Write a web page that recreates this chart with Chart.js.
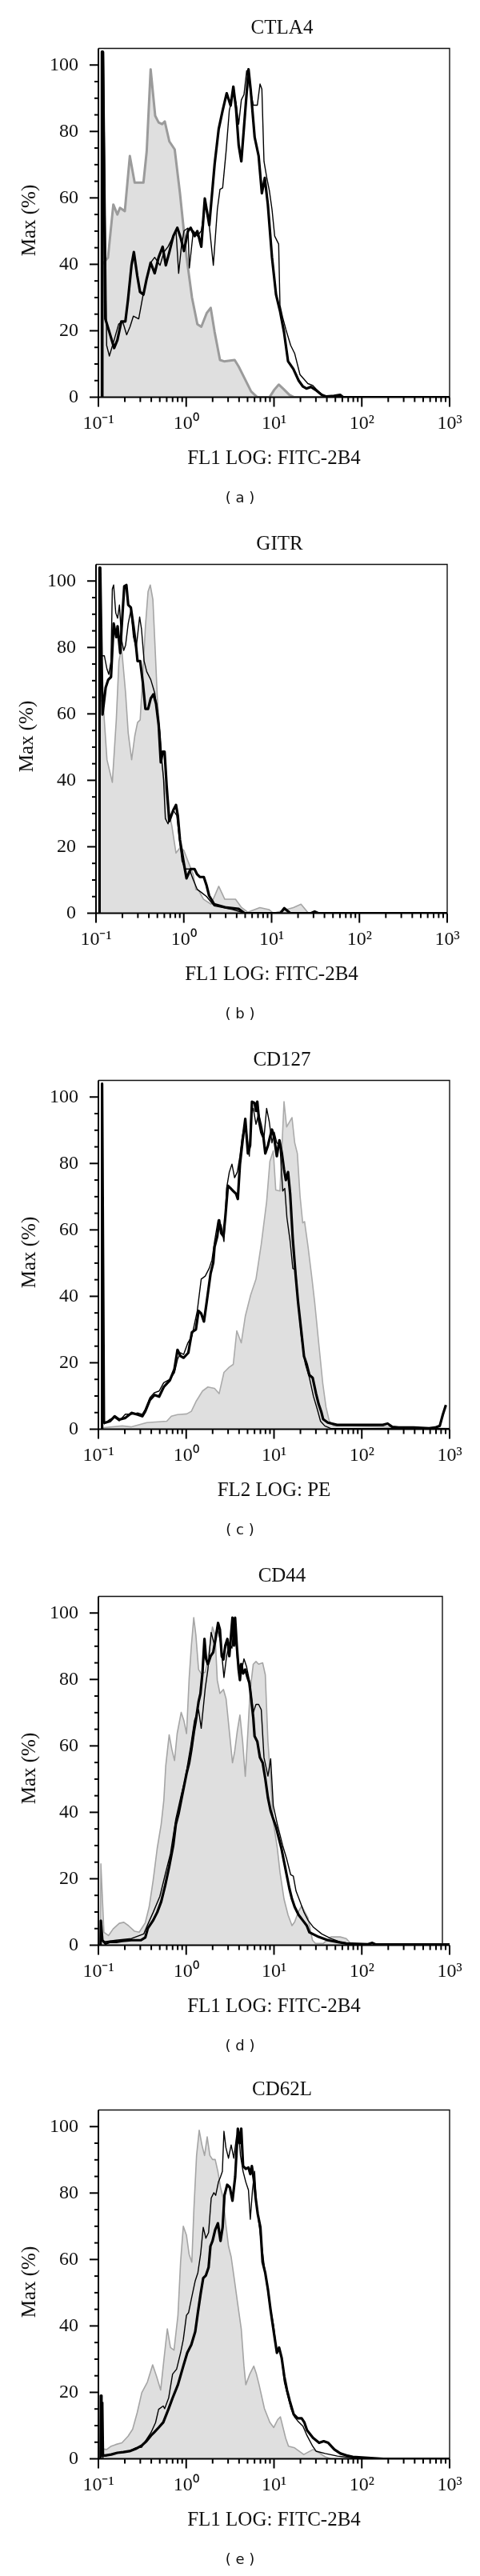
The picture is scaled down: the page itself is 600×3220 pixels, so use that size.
<!DOCTYPE html>
<html>
<head>
<meta charset="utf-8">
<script src="https://cdn.jsdelivr.net/npm/chart.js@4.4.1/dist/chart.umd.min.js"></script>
<style>
  body { margin: 0; background: #fff; }
  #page { position: relative; width: 600px; height: 3220px; overflow: hidden; background: #fff; }
  canvas { position: absolute; }
</style>
</head>
<body>
<div id="page">
  <canvas id="chart0" width="600" height="644" style="top:0;left:0"></canvas>
  <canvas id="chart1" width="600" height="644" style="top:645px;left:-3px"></canvas>
  <canvas id="chart2" width="600" height="644" style="top:1290px;left:0"></canvas>
  <canvas id="chart3" width="600" height="644" style="top:1935px;left:0"></canvas>
  <canvas id="chart4" width="600" height="643" style="top:2577px;left:0"></canvas>
</div>
<script>
// axis ticks (x values are log10 of the fluorescence intensity)
const decades = [-1, 0, 1, 2, 3];
const decadeLabels = ['10\u207B\u00B9', '10\u2070', '10\u00B9', '10\u00B2', '10\u00B3'];
const minorSteps = [2, 3, 4, 5, 6, 7, 8, 9];
const yTicks = [0, 20, 40, 60, 80, 100];
const yMinorStep = 5;

// (a) CTLA4
const ctla4IsoX = [-0.96, -0.955, -0.891, -0.83, -0.784, -0.754, -0.699, -0.642, -0.587, -0.487, -0.45, -0.405, -0.353, -0.314, -0.274, -0.244, -0.192, -0.131, -0.071, 0.005, 0.066, 0.127, 0.172, 0.233, 0.279, 0.324, 0.385, 0.431, 0.552, 0.598, 0.674, 0.74, 0.81, 0.949, 1.002, 1.054, 1.107, 1.176, 1.229, 3];
const ctla4IsoY = [0, 40, 42, 58, 55, 57, 56, 72.6, 64.6, 64.6, 74, 98.7, 84.7, 82.7, 82.2, 83, 77, 74.6, 61.4, 42, 30, 22, 21.2, 25.3, 26.9, 19.6, 11.2, 10.8, 11.2, 9.2, 5.2, 1.7, 0, 0, 2.2, 3.8, 2.5, 0.7, 0, 0];
const ctla4ThinX = [-0.95, -0.948, -0.94, -0.906, -0.875, -0.83, -0.769, -0.724, -0.678, -0.64, -0.602, -0.541, -0.496, -0.45, -0.405, -0.359, -0.298, -0.253, -0.207, -0.162, -0.116, -0.086, -0.055, -0.025, 0.02, 0.036, 0.081, 0.127, 0.172, 0.218, 0.263, 0.309, 0.355, 0.385, 0.415, 0.455, 0.491, 0.537, 0.567, 0.598, 0.628, 0.658, 0.689, 0.719, 0.765, 0.81, 0.841, 0.862, 0.886, 0.917, 0.947, 0.977, 1.008, 1.053, 1.068, 1.099, 1.135, 1.19, 1.235, 1.296, 1.386, 1.438, 1.508, 1.578, 3];
const ctla4ThinY = [0, 104, 104, 15.6, 12.4, 16.4, 22, 22.8, 18.8, 21.2, 24.4, 23.6, 30.1, 35.7, 40.5, 42.1, 39.7, 43.7, 45.3, 47.7, 50.1, 37.3, 45.3, 50.1, 50.9, 38.9, 50.1, 48.5, 50.1, 58.2, 51.7, 39.7, 56.6, 62.6, 63, 74.2, 86.3, 91.9, 88.7, 82.2, 89.5, 91.1, 98.3, 94.3, 87.9, 87.9, 94.3, 92.7, 71, 66.2, 62.2, 56.6, 48.5, 46.1, 27.7, 24, 20.4, 15.6, 13.2, 6.8, 4.1, 3.6, 1.7, 0.2, 0];
const ctla4ThickX = [-0.962, -0.96, -0.95, -0.921, -0.875, -0.821, -0.784, -0.739, -0.693, -0.663, -0.623, -0.596, -0.557, -0.526, -0.487, -0.45, -0.405, -0.359, -0.314, -0.268, -0.232, -0.192, -0.147, -0.101, -0.061, -0.025, 0.02, 0.051, 0.096, 0.127, 0.172, 0.212, 0.263, 0.324, 0.37, 0.415, 0.461, 0.506, 0.537, 0.567, 0.598, 0.628, 0.673, 0.71, 0.734, 0.78, 0.825, 0.862, 0.895, 0.93, 0.977, 1.023, 1.068, 1.114, 1.16, 1.22, 1.281, 1.33, 1.369, 1.421, 1.473, 1.543, 1.596, 1.683, 1.753, 1.788, 3];
const ctla4ThickY = [0, 104, 104, 23.6, 19.6, 14.8, 17.2, 22.8, 22.8, 29.3, 39.7, 43.7, 36.5, 31.7, 30.9, 35.7, 40.5, 37.3, 42.1, 45.3, 39.7, 43.7, 48.5, 51, 47.8, 44, 50, 51, 48.5, 50, 45.3, 59.8, 51.8, 70.2, 80.7, 86.3, 91.5, 87.8, 93.5, 87, 75.8, 71, 86.3, 98.7, 92.7, 78.2, 72.6, 61.4, 66, 58, 42.1, 30.9, 26, 19.6, 10.8, 8.5, 5, 3.2, 2.6, 3.1, 2.2, 0.7, 0.2, 0.4, 0.7, 0, 0];

// (b) GITR
const gitrIsoX = [-0.96, -0.955, -0.92, -0.875, -0.814, -0.769, -0.739, -0.709, -0.663, -0.633, -0.594, -0.558, -0.527, -0.497, -0.467, -0.437, -0.407, -0.382, -0.352, -0.331, -0.301, -0.271, -0.231, -0.195, -0.135, -0.089, -0.044, 0.001, 0.047, 0.107, 0.138, 0.167, 0.225, 0.311, 0.398, 0.467, 0.589, 0.658, 0.728, 0.866, 0.97, 1.02, 1.248, 1.335, 1.42, 3];
const gitrIsoY = [0, 64, 63.9, 46.2, 39.4, 58.2, 75.9, 80, 66.3, 54.2, 46.2, 53.4, 57.4, 58.2, 71.9, 86.4, 96.8, 98.8, 94.4, 82.3, 64.7, 54.2, 40.6, 34.2, 26.1, 18.1, 19.7, 18.9, 15.7, 11.7, 7.1, 6.9, 4.2, 2.7, 8.1, 4.2, 4.2, 1.7, 0.3, 1.7, 1.1, 0, 1.7, 2.7, 0, 0];
const gitrThinX = [-0.945, -0.935, -0.905, -0.875, -0.854, -0.829, -0.814, -0.799, -0.775, -0.754, -0.733, -0.709, -0.684, -0.663, -0.633, -0.603, -0.573, -0.542, -0.503, -0.482, -0.452, -0.422, -0.376, -0.331, -0.301, -0.271, -0.249, -0.231, -0.21, -0.18, -0.15, -0.12, -0.08, -0.059, -0.02, 0.016, 0.062, 0.107, 0.152, 0.207, 0.26, 0.346, 0.554, 0.693, 3];
const gitrThinY = [78, 77.5, 77.5, 73.5, 71.9, 75.9, 97.6, 98.8, 90.4, 88.8, 92.8, 82.3, 79.1, 80.7, 87.2, 91.2, 83.1, 79.9, 89.2, 85.6, 75.9, 72.7, 70.3, 66.3, 60.7, 54.2, 45.4, 40.6, 28.5, 26.9, 29.4, 31, 29.4, 24.5, 15.7, 13.3, 13.3, 10.1, 7.2, 6.1, 5, 2.2, 1.1, 0, 0];
const gitrThickX = [-0.962, -0.96, -0.952, -0.926, -0.89, -0.86, -0.829, -0.799, -0.769, -0.754, -0.724, -0.709, -0.678, -0.654, -0.633, -0.603, -0.573, -0.542, -0.527, -0.497, -0.467, -0.437, -0.407, -0.376, -0.346, -0.316, -0.286, -0.262, -0.24, -0.219, -0.195, -0.165, -0.12, -0.089, -0.068, -0.044, 0.001, 0.031, 0.077, 0.122, 0.152, 0.182, 0.228, 0.258, 0.288, 0.346, 0.485, 0.624, 0.693, 1.1, 1.144, 1.213, 1.45, 1.49, 1.53, 3];
const gitrThickY = [0, 104, 104, 59.8, 67.9, 70.3, 71.1, 87.2, 83.1, 86.4, 78.3, 85.6, 98.4, 98.8, 92.8, 92, 86.4, 79.9, 75.9, 75.9, 69.5, 61.5, 61.5, 64.7, 65.9, 63.1, 56.6, 45.4, 48.6, 48.6, 38.2, 27.7, 31, 32.6, 29.4, 22.1, 14.9, 10.5, 13.3, 13.3, 11.7, 10.9, 10.9, 8.5, 5.3, 2.7, 1.7, 1.3, 0, 0, 1.5, 0, 0, 0.5, 0, 0];

// (c) CD127
const cd127IsoX = [-0.96, -0.937, -0.728, -0.623, -0.448, -0.221, -0.169, -0.099, 0.006, 0.059, 0.111, 0.186, 0.247, 0.323, 0.375, 0.43, 0.491, 0.536, 0.576, 0.627, 0.673, 0.734, 0.795, 0.855, 0.916, 0.953, 0.992, 1.02, 1.068, 1.114, 1.144, 1.205, 1.236, 1.266, 1.297, 1.327, 1.348, 1.388, 1.433, 1.464, 1.509, 1.555, 1.592, 1.63, 1.68, 1.89, 2.24, 2.42, 3];
const cd127IsoY = [0, 0.5, 1, 0.7, 2, 2.4, 3.9, 4.4, 4.6, 5.4, 8.3, 11.5, 12.7, 12.3, 10.7, 17.1, 18.7, 19.5, 29.6, 26, 34, 40.4, 45.2, 55.7, 68.5, 80.6, 83.8, 72, 71.7, 98.6, 91, 93.8, 86.2, 83, 70.1, 62.1, 62.5, 54.9, 45.2, 38, 26, 13.9, 6.7, 2.4, 1, 1, 0.7, 0.5, 0.2];
const cd127ThinX = [-0.937, -0.867, -0.815, -0.762, -0.693, -0.623, -0.553, -0.5, -0.466, -0.413, -0.361, -0.308, -0.256, -0.186, -0.134, -0.099, -0.064, -0.029, 0.019, 0.065, 0.126, 0.171, 0.217, 0.263, 0.293, 0.323, 0.363, 0.399, 0.43, 0.46, 0.491, 0.521, 0.551, 0.582, 0.612, 0.637, 0.673, 0.719, 0.74, 0.764, 0.795, 0.825, 0.855, 0.886, 0.916, 0.946, 0.977, 1.002, 1.032, 1.068, 1.099, 1.123, 1.147, 1.184, 1.214, 1.245, 1.275, 1.312, 1.357, 1.403, 1.449, 1.494, 1.53, 1.578, 1.648, 3];
const cd127ThinY = [1.5, 3, 3.5, 2.5, 4.5, 4.5, 4.9, 4.5, 6, 9.5, 11, 11.5, 14, 15, 17, 21, 23, 22.5, 26, 28, 35.6, 45.2, 46.1, 48.5, 50.9, 56.5, 62.9, 61.3, 56.5, 72.5, 77.4, 79.8, 75.7, 77.4, 82.2, 87.8, 92.6, 82.2, 95, 96.6, 91.8, 95, 91.8, 87.8, 96.6, 92.6, 86.2, 89.4, 86.2, 85.4, 71.7, 72.5, 63.7, 56.5, 48.4, 48, 38, 27.6, 19.6, 15.5, 9.9, 5.9, 2.4, 1, 0.2, 0.2];
const cd127ThickX = [-0.963, -0.961, -0.955, -0.937, -0.92, -0.867, -0.815, -0.762, -0.693, -0.623, -0.553, -0.5, -0.466, -0.413, -0.361, -0.308, -0.256, -0.186, -0.134, -0.099, -0.064, -0.029, 0.024, 0.065, 0.11, 0.141, 0.171, 0.202, 0.232, 0.278, 0.308, 0.323, 0.354, 0.375, 0.399, 0.424, 0.445, 0.475, 0.506, 0.536, 0.567, 0.588, 0.612, 0.643, 0.673, 0.703, 0.728, 0.749, 0.779, 0.795, 0.81, 0.831, 0.855, 0.88, 0.901, 0.931, 0.953, 0.977, 1.002, 1.032, 1.062, 1.09, 1.114, 1.135, 1.16, 1.184, 1.214, 1.245, 1.275, 1.312, 1.342, 1.373, 1.403, 1.44, 1.479, 1.509, 1.54, 1.56, 1.613, 1.718, 1.893, 2.07, 2.24, 2.294, 2.347, 2.42, 2.59, 2.766, 2.836, 2.888, 2.923, 2.958];
const cd127ThickY = [0, 104, 104, 2, 2, 2.4, 3.9, 2.9, 3.4, 4.9, 4.4, 3.9, 5.4, 8.8, 10.3, 9.8, 12.7, 14.7, 18.1, 23.9, 22, 21.5, 23, 29.2, 30, 35.6, 34.8, 32.4, 38, 46.9, 50.1, 54.9, 58.1, 62.9, 59, 58.1, 63.7, 73.3, 72.5, 71.7, 70.9, 69.3, 79.7, 87, 93.4, 83, 85.4, 98.6, 98.2, 95.8, 98.6, 92.6, 89.4, 87.8, 83, 85.4, 87.8, 90.2, 87.8, 82.2, 87, 83, 78.2, 75, 77.4, 70.9, 57.3, 46.8, 38, 29.2, 21.9, 19.5, 16.3, 15.5, 10.7, 7.5, 5.1, 3, 2, 1.3, 1.3, 1.3, 1.3, 1.7, 0.7, 0.5, 0.5, 0.3, 0.5, 1, 4.4, 7.3];

// (d) CD44
const cd44IsoX = [-0.978, -0.972, -0.937, -0.885, -0.832, -0.762, -0.71, -0.658, -0.588, -0.535, -0.467, -0.422, -0.376, -0.33, -0.285, -0.255, -0.233, -0.194, -0.163, -0.133, -0.103, -0.057, -0.027, 0.004, 0.034, 0.059, 0.086, 0.11, 0.141, 0.171, 0.217, 0.262, 0.299, 0.329, 0.354, 0.384, 0.424, 0.454, 0.491, 0.527, 0.551, 0.582, 0.612, 0.643, 0.673, 0.703, 0.728, 0.764, 0.795, 0.825, 0.871, 0.901, 0.931, 0.962, 0.992, 1.038, 1.068, 1.114, 1.16, 1.205, 1.235, 1.281, 1.316, 1.386, 1.438, 1.473, 1.56, 1.648, 1.753, 1.823, 1.875, 1.93, 3];
const cd44IsoY = [0, 24.5, 3.9, 2.9, 4.9, 6.6, 6.9, 5.9, 4.2, 3.9, 6.7, 11.5, 19.6, 29.2, 36.4, 43.6, 54, 63.3, 58.9, 55.6, 63.7, 70.1, 67.7, 63.7, 80.5, 90.2, 98.6, 93.4, 83, 81.8, 82.2, 88.6, 95.8, 93.4, 79.8, 75.8, 77, 74.2, 64.5, 54.9, 58.1, 64.5, 69.3, 61.3, 50.8, 64.5, 76.6, 84.6, 85.4, 84.6, 85, 81.4, 61.3, 50.1, 37.2, 29.2, 22, 13.9, 9.1, 5.9, 7, 10.3, 11.8, 8.3, 1.5, 0.5, 0.5, 2.5, 2.5, 2, 0.5, 0, 0];
const cd44ThinX = [-0.955, -0.797, -0.623, -0.483, -0.437, -0.376, -0.3, -0.24, -0.179, -0.118, -0.057, -0.011, 0.019, 0.05, 0.095, 0.141, 0.171, 0.217, 0.247, 0.284, 0.323, 0.354, 0.393, 0.43, 0.46, 0.491, 0.521, 0.551, 0.582, 0.627, 0.658, 0.688, 0.719, 0.764, 0.795, 0.825, 0.855, 0.886, 0.931, 0.962, 0.992, 1.038, 1.099, 1.144, 1.19, 1.22, 1.251, 1.297, 1.342, 1.388, 1.449, 1.543, 1.648, 1.753, 1.858, 1.96, 3];
const cd44ThinY = [1, 1.5, 2, 3.4, 6.3, 9.9, 14.7, 21.2, 27.6, 38, 45.2, 50.1, 54.9, 59.7, 67.7, 70.9, 65.3, 77.4, 83, 94.2, 90.2, 95.8, 91, 80.6, 87, 91, 89.4, 98.3, 86.2, 82.2, 86.2, 83.8, 79.8, 70.1, 72.5, 72.5, 70.9, 56.5, 50.9, 56.1, 42, 36.4, 30, 26, 21.2, 20.8, 16.3, 13.1, 9.9, 7.5, 5.4, 3.4, 2, 1, 0.5, 0, 0];
const cd44ThickX = [-0.975, -0.972, -0.955, -0.92, -0.867, -0.797, -0.728, -0.623, -0.518, -0.466, -0.437, -0.376, -0.33, -0.285, -0.24, -0.194, -0.148, -0.118, -0.087, -0.057, -0.027, 0.004, 0.034, 0.059, 0.089, 0.11, 0.141, 0.162, 0.186, 0.208, 0.226, 0.247, 0.278, 0.308, 0.332, 0.363, 0.384, 0.405, 0.424, 0.445, 0.469, 0.491, 0.506, 0.527, 0.545, 0.557, 0.576, 0.597, 0.612, 0.627, 0.649, 0.673, 0.694, 0.719, 0.734, 0.764, 0.779, 0.81, 0.84, 0.871, 0.901, 0.931, 0.962, 0.992, 1.023, 1.053, 1.084, 1.114, 1.144, 1.175, 1.205, 1.236, 1.281, 1.327, 1.373, 1.403, 1.508, 1.613, 1.718, 1.823, 2.07, 2.12, 2.16, 3];
const cd44ThickY = [0, 7.4, 1.5, 0.5, 1, 1, 1.3, 1.5, 1.5, 2.3, 5.1, 7.5, 9.9, 13.1, 17.9, 23.6, 30, 36.4, 39.6, 43.6, 47.6, 51.7, 54.9, 58.9, 64.5, 67.7, 73.3, 75.7, 82.2, 92.2, 86.2, 84.6, 87, 88.2, 91.8, 97, 95, 87, 86, 90.2, 92.2, 87, 91.8, 98.6, 90.2, 98.6, 90.2, 83, 79.8, 84.6, 81.8, 83, 81, 79, 75.7, 68.5, 62.9, 61.3, 56.5, 54.9, 50.1, 44.4, 40.4, 38, 35.6, 32.4, 29.2, 25.2, 21.2, 17.1, 13.9, 11.5, 9.1, 7.5, 5.9, 3.9, 2.5, 1.5, 1, 0.5, 0.3, 0.7, 0.2, 0.2];

// (e) CD62L
const cd62lIsoX = [-0.975, -0.965, -0.906, -0.854, -0.802, -0.732, -0.662, -0.61, -0.558, -0.506, -0.442, -0.382, -0.336, -0.291, -0.252, -0.215, -0.179, -0.139, -0.094, -0.064, -0.033, 0.003, 0.033, 0.064, 0.088, 0.118, 0.148, 0.179, 0.209, 0.239, 0.27, 0.3, 0.33, 0.361, 0.391, 0.421, 0.452, 0.482, 0.512, 0.542, 0.588, 0.627, 0.658, 0.679, 0.724, 0.77, 0.8, 0.83, 0.891, 0.952, 0.997, 1.042, 1.073, 1.103, 1.133, 1.165, 1.235, 1.339, 1.444, 1.514, 1.583, 1.653, 3];
const cd62lIsoY = [0, 3, 2.8, 3.8, 4.3, 4.8, 6.8, 8.9, 13.9, 19.9, 23.1, 28.3, 24.7, 20.7, 30.3, 39.1, 33.5, 32.7, 43.2, 59.2, 70, 67.3, 61.6, 59.2, 75.3, 91.3, 98.9, 94.5, 91.3, 96.9, 91.3, 90.1, 90.1, 86.5, 81.7, 78.5, 70.5, 64, 60.8, 55.2, 46.4, 39.1, 27.9, 22.3, 25.5, 27.9, 25.5, 22.3, 15.1, 11, 9.4, 11.8, 12.6, 9.4, 6.2, 3.8, 3.3, 1.3, 2.8, 1.8, 0.6, 0, 0];
const cd62lThinX = [-0.952, -0.948, -0.94, -0.923, -0.784, -0.645, -0.575, -0.506, -0.453, -0.401, -0.349, -0.314, -0.262, -0.245, -0.2, -0.155, -0.109, -0.064, -0.033, 0.003, 0.027, 0.058, 0.103, 0.133, 0.164, 0.194, 0.224, 0.255, 0.285, 0.315, 0.336, 0.367, 0.391, 0.412, 0.43, 0.452, 0.482, 0.512, 0.542, 0.573, 0.597, 0.618, 0.648, 0.679, 0.709, 0.73, 0.755, 0.779, 0.8, 0.83, 0.861, 0.891, 0.921, 0.952, 0.997, 1.027, 1.058, 1.088, 1.118, 1.155, 1.194, 1.233, 1.27, 1.33, 1.376, 1.44, 1.479, 1.583, 1.722, 1.896, 2.07, 3];
const cd62lThinY = [0, 17, 1, 0.8, 1.8, 2.3, 3.3, 3.5, 5.8, 7.9, 10.9, 14.9, 15.9, 15.1, 18.3, 25.5, 27, 31.9, 35.9, 43.2, 44, 48, 53.6, 56, 61.6, 69.7, 66.4, 68.1, 78.5, 80.1, 79.3, 83.3, 84.9, 86.5, 98.6, 93.7, 90.5, 94.5, 90.5, 96.9, 98.6, 91.3, 86.5, 83.3, 80.9, 72.1, 80.9, 86.5, 76.9, 70.5, 64, 57.6, 52, 46.4, 39.9, 32.7, 33.5, 30.3, 23.1, 19.1, 15.1, 12.6, 11.4, 9.8, 7, 3.8, 2.3, 1.6, 0.8, 0.3, 0, 0];
const cd62lThickX = [-0.975, -0.972, -0.965, -0.923, -0.854, -0.784, -0.715, -0.645, -0.575, -0.506, -0.453, -0.401, -0.366, -0.314, -0.261, -0.2, -0.155, -0.094, -0.033, 0.012, 0.058, 0.103, 0.133, 0.164, 0.194, 0.224, 0.255, 0.276, 0.3, 0.33, 0.361, 0.391, 0.415, 0.436, 0.467, 0.497, 0.527, 0.558, 0.588, 0.609, 0.627, 0.648, 0.679, 0.709, 0.73, 0.748, 0.77, 0.791, 0.815, 0.845, 0.87, 0.9, 0.93, 0.961, 0.997, 1.033, 1.058, 1.088, 1.118, 1.148, 1.179, 1.224, 1.27, 1.315, 1.345, 1.376, 1.444, 1.514, 1.566, 1.618, 1.688, 1.757, 1.827, 1.897, 2.07, 2.245, 3];
const cd62lThickY = [0, 19, 1, 1, 1.3, 1.8, 2, 2.3, 3, 4, 5.3, 7, 7.9, 9.4, 11, 15.1, 18.3, 22.3, 27.9, 31.9, 34.3, 38.3, 44, 49.6, 54.4, 55.2, 57.6, 64, 65.6, 68.9, 70.9, 65.6, 69.7, 79.3, 82.5, 81.7, 77.7, 84.9, 99.4, 95, 99.4, 88.1, 87.3, 87.7, 85.7, 88.1, 84.1, 78.5, 73.7, 69.7, 59.2, 56, 51.2, 44.8, 38.3, 31.9, 33.5, 30.3, 24.7, 20.7, 17.5, 13.4, 12.2, 12.2, 11, 8.6, 6.3, 4.8, 5.3, 4.8, 2.8, 1.6, 1, 0.6, 0.3, 0, 0];

const serif = "'Liberation Serif', 'Times New Roman', serif";

const panels = [
    { title: 'CTLA4', xTitle: 'FL1 LOG: FITC-2B4', caption: '( a )',
      iso: [ctla4IsoX, ctla4IsoY], thin: [ctla4ThinX, ctla4ThinY], thick: [ctla4ThickX, ctla4ThickY],
      isoColor: '#9b9b9b', isoWidth: 3, frameInset: 0, shift: 0 },
    { title: 'GITR', xTitle: 'FL1 LOG: FITC-2B4', caption: '( b )',
      iso: [gitrIsoX, gitrIsoY], thin: [gitrThinX, gitrThinY], thick: [gitrThickX, gitrThickY],
      isoColor: '#a5a5a5', isoWidth: 1.6, frameInset: 0, shift: -3 },
    { title: 'CD127', xTitle: 'FL2 LOG: PE', caption: '( c )',
      iso: [cd127IsoX, cd127IsoY], thin: [cd127ThinX, cd127ThinY], thick: [cd127ThickX, cd127ThickY],
      isoColor: '#ababab', isoWidth: 1.6, frameInset: 0, shift: 0 },
    { title: 'CD44', xTitle: 'FL1 LOG: FITC-2B4', caption: '( d )',
      iso: [cd44IsoX, cd44IsoY], thin: [cd44ThinX, cd44ThinY], thick: [cd44ThickX, cd44ThickY],
      isoColor: '#a5a5a5', isoWidth: 1.6, frameInset: 9, shift: 0 },
    { title: 'CD62L', xTitle: 'FL1 LOG: FITC-2B4', caption: '( e )',
      iso: [cd62lIsoX, cd62lIsoY], thin: [cd62lThinX, cd62lThinY], thick: [cd62lThickX, cd62lThickY],
      isoColor: '#a5a5a5', isoWidth: 1.6, frameInset: 0, shift: 0 }
];

function toPoints(xs, ys) {
    return xs.map((x, i) => ({ x: x, y: ys[i] }));
}

// frame, tick marks and the texts around each plot
function framePlugin(p) {
    return {
        id: 'frame',
        afterDraw(chart) {
            const { ctx, chartArea: a, scales: { x, y } } = chart;
            const line = (x1, y1, x2, y2) => {
                ctx.beginPath(); ctx.moveTo(x1, y1); ctx.lineTo(x2, y2); ctx.stroke();
            };
            ctx.save();
            ctx.strokeStyle = '#111';
            ctx.lineWidth = 1.4;
            const r = a.right - p.frameInset;
            ctx.beginPath();
            ctx.moveTo(a.left, a.top); ctx.lineTo(r, a.top); ctx.lineTo(r, a.bottom);
            ctx.stroke();

            ctx.strokeStyle = '#000';
            ctx.lineWidth = 2;
            ctx.beginPath();
            ctx.moveTo(a.left, a.top); ctx.lineTo(a.left, a.bottom); ctx.lineTo(a.right, a.bottom);
            ctx.stroke();

            decades.forEach(d => {
                const px = x.getPixelForValue(d);
                line(px, a.bottom, px, a.bottom + 12);
                if (d < 3) {
                    minorSteps.forEach(m => {
                        const mx = x.getPixelForValue(d + Math.log10(m));
                        line(mx, a.bottom, mx, a.bottom + 6);
                    });
                }
            });
            for (let v = 0; v <= 100; v += yMinorStep) {
                const py = y.getPixelForValue(v);
                const len = yTicks.includes(v) ? 11 : 5;
                line(a.left - len, py, a.left, py);
            }

            ctx.fillStyle = '#111';
            ctx.textAlign = 'center';
            ctx.textBaseline = 'middle';
            ctx.font = '25px ' + serif;
            ctx.fillText(p.title, (a.left + a.right) / 2 + 10, a.top - 25);
            ctx.fillText(p.xTitle, (a.left + a.right) / 2, a.bottom + 77);
            ctx.save();
            ctx.translate(37, (a.top + a.bottom) / 2 - 3);
            ctx.rotate(-Math.PI / 2);
            ctx.fillText('Max (%)', 0, 0);
            ctx.restore();
            ctx.font = "18px 'DejaVu Sans', sans-serif";
            ctx.fillText(p.caption, 300 - p.shift, a.bottom + 127);
            ctx.restore();
        }
    };
}

function drawPanel(p, i) {
    const canvas = document.getElementById('chart' + i);
    const axisHeight = canvas.height - 496.5;
    new Chart(canvas, {
        type: 'line',
        data: {
            datasets: [
                { label: 'thick', data: toPoints(p.thick[0], p.thick[1]), borderColor: '#000',
                  borderWidth: 3.2, pointRadius: 0, fill: false, tension: 0, borderJoinStyle: 'round' },
                { label: 'thin', data: toPoints(p.thin[0], p.thin[1]), borderColor: '#000',
                  borderWidth: 1.4, pointRadius: 0, fill: false, tension: 0, borderJoinStyle: 'round' },
                { label: 'isotype', data: toPoints(p.iso[0], p.iso[1]), borderColor: p.isoColor,
                  borderWidth: p.isoWidth, backgroundColor: '#dfdfdf', pointRadius: 0, fill: 'origin',
                  tension: 0, borderJoinStyle: 'round' }
            ]
        },
        options: {
            responsive: false,
            animation: false,
            layout: { padding: { top: 60.5, right: 38, left: 0, bottom: 0 } },
            plugins: { legend: { display: false }, tooltip: { enabled: false } },
            scales: {
                x: {
                    type: 'linear', min: -1, max: 3,
                    afterBuildTicks: s => { s.ticks = decades.map(v => ({ value: v })); },
                    afterFit: s => { s.height = axisHeight; },
                    grid: { display: false, drawTicks: false },
                    border: { display: false },
                    ticks: {
                        padding: 19, color: '#111', maxRotation: 0, autoSkip: false,
                        font: { family: serif, size: 24 },
                        callback: (v, idx) => decadeLabels[idx]
                    }
                },
                y: {
                    type: 'linear', min: 0, max: 105,
                    afterBuildTicks: s => { s.ticks = yTicks.map(v => ({ value: v })); },
                    afterFit: s => { s.width = 123; },
                    grid: { display: false, drawTicks: false },
                    border: { display: false },
                    ticks: { padding: 25, color: '#111', font: { family: serif, size: 24 } }
                }
            }
        },
        plugins: [framePlugin(p)]
    });
}

panels.forEach(drawPanel);
</script>
</body>
</html>
